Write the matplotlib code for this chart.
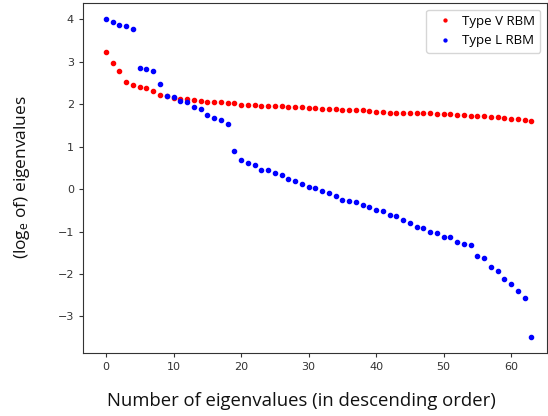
import matplotlib.pyplot as plt

# eigenvalue index (64 eigenvalues)
indices = list(range(64))

# Type V RBM, log of eigenvalues
type_v = [3.22, 2.97, 2.78, 2.53, 2.45, 2.41, 2.38, 2.30, 2.21, 2.20,
          2.14, 2.12, 2.12, 2.09, 2.08, 2.05, 2.05, 2.04, 2.03, 2.03,
          1.98, 1.98, 1.97, 1.96, 1.95, 1.95, 1.95, 1.94, 1.94, 1.93,
          1.91, 1.90, 1.88, 1.88, 1.88, 1.86, 1.86, 1.86, 1.86, 1.84,
          1.82, 1.81, 1.80, 1.80, 1.80, 1.79, 1.79, 1.79, 1.78, 1.76,
          1.76, 1.76, 1.74, 1.74, 1.72, 1.72, 1.72, 1.69, 1.69, 1.67,
          1.65, 1.65, 1.63, 1.61]

# Type L RBM, log of eigenvalues
type_l = [4.00, 3.93, 3.87, 3.85, 3.77, 2.86, 2.82, 2.77, 2.48, 2.20,
          2.16, 2.08, 2.05, 1.94, 1.88, 1.74, 1.68, 1.62, 1.54, 0.89,
          0.68, 0.62, 0.56, 0.46, 0.44, 0.38, 0.34, 0.24, 0.20, 0.12,
          0.05, 0.02, -0.05, -0.09, -0.16, -0.25, -0.27, -0.31, -0.38, -0.42,
          -0.49, -0.52, -0.60, -0.63, -0.72, -0.80, -0.89, -0.92, -1.00, -1.03,
          -1.14, -1.14, -1.25, -1.29, -1.32, -1.58, -1.63, -1.83, -1.92, -2.12,
          -2.24, -2.39, -2.56, -3.48]

plt.rcParams['mathtext.fontset'] = 'custom'
plt.rcParams['mathtext.rm'] = 'Open Sans'
plt.rcParams['mathtext.it'] = 'Open Sans'

fig = plt.figure(figsize=(5.48, 4.16), dpi=100)
ax = fig.add_axes([0.1515, 0.1514, 0.8465, 0.8414])

ax.plot(indices, type_v, '.', color='red', markersize=6, label='Type V RBM')
ax.plot(indices, type_l, '.', color='blue', markersize=6, label='Type L RBM')

ax.set_xlim(-3.4, 65.3)
ax.set_ylim(-3.86, 4.38)
ax.set_xticks([0, 10, 20, 30, 40, 50, 60])
ax.set_yticks([-3, -2, -1, 0, 1, 2, 3, 4])
ax.tick_params(labelsize=8, colors='#333333', length=3)
for s in ax.spines.values():
    s.set_color('#333333')

leg = ax.legend(loc='upper right', prop={'family': 'Open Sans', 'size': 9.5},
                handletextpad=0.3, borderpad=0.4, markerscale=0.7)

fig.text(0.55, 0.035, 'Number of eigenvalues (in descending order)',
         ha='center', va='center', fontsize=13.3, family='Open Sans', color='#111111')
fig.text(0.04, 0.575, '(log$_{e}$ of) eigenvalues', rotation=90,
         ha='center', va='center', fontsize=12.5, family='Open Sans', color='#111111')

fig.savefig('out.png', dpi=100)
